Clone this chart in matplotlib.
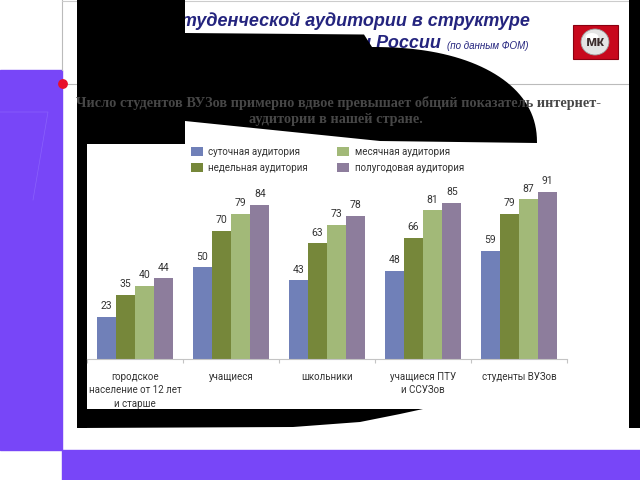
import numpy as np
import matplotlib
matplotlib.use("Agg")
import matplotlib.pyplot as plt
from matplotlib.patches import Rectangle, Polygon, Ellipse, Circle

# chart data (percent of each group that uses the internet)
categories = ["городское\nнаселение от 12 лет\nи старше", "учащиеся", "школьники",
              "учащиеся ПТУ\nи ССУЗов", "студенты ВУЗов"]
series_names = ["суточная аудитория", "недельная аудитория",
                "месячная аудитория", "полугодовая аудитория"]
daily = [23, 50, 43, 48, 59]
weekly = [35, 70, 63, 66, 79]
monthly = [40, 79, 73, 81, 87]
halfyear = [44, 84, 78, 85, 91]

colors = ["#7080b8", "#76873a", "#a2b978", "#8d7d9c"]
PURPLE = "#7846f8"
NAVY = "#24247e"

fig = plt.figure(figsize=(6.4, 4.8), dpi=100)
fig.patch.set_facecolor("white")

# ---- slide decoration, drawn in pixel coordinates ----
bg = fig.add_axes([0, 0, 1, 1])
bg.set_xlim(0, 640); bg.set_ylim(480, 0); bg.axis("off")

bg.add_patch(Rectangle((0, 70), 62, 380, color=PURPLE, zorder=1))
bg.add_patch(Rectangle((62, 450), 578, 30, color=PURPLE, zorder=1))
bg.plot([0, 48, 33], [112, 112, 200], color="#8a62fc", lw=0.5, zorder=1.5)
bg.plot([62, 62], [0, 70], color="#bbbbbb", lw=0.8, zorder=1)
bg.plot([62, 640], [0.5, 0.5], color="#cccccc", lw=0.8, zorder=1)
bg.plot([62, 629], [84, 84], color="#bbbbbb", lw=0.8, zorder=1)

# title (partly hidden by the black shape, as in the slide)
tkw = dict(family=["Liberation Sans", "DejaVu Sans"], style="italic",
           weight="bold", color=NAVY, zorder=2)
bg.text(530, 21, "Доля студенческой аудитории в структуре", ha="right",
        va="center", fontsize=13, **tkw)
bg.text(441, 43, "интернет-аудитории России", ha="right", va="center",
        fontsize=13, **tkw)
bg.text(447, 46, "(по данным ФОМ)", ha="left", va="center", fontsize=7,
        family=["Liberation Sans", "DejaVu Sans"], style="italic",
        color=NAVY, zorder=2)

# logo
bg.add_patch(Rectangle((573, 25), 45, 34, facecolor="#c8081c",
                       edgecolor="#8a0010", lw=0.8, zorder=2))
bg.add_patch(Ellipse((595, 42), 28, 26, facecolor="#e4e4e4",
                     edgecolor="#9a9a9a", lw=0.6, zorder=2.1))
bg.add_patch(Ellipse((592, 37), 13, 8, facecolor="white", edgecolor="none",
                     zorder=2.15))
bg.text(595, 42.5, "мк", ha="center", va="center", fontsize=11, weight="bold",
        color="#3a2a2a", family=["Liberation Sans", "DejaVu Sans"], zorder=2.2)

# black overlay shape
blk = dict(facecolor="black", edgecolor="none", zorder=3)
bg.add_patch(Rectangle((77, 0), 108, 144, **blk))
bg.add_patch(Rectangle((77, 144), 10, 284, **blk))
bg.add_patch(Rectangle((629, 0), 11, 428, **blk))
t = np.linspace(np.pi / 2, 0, 40)
arc_x = 372 + 165 * np.cos(t) ** 0.9
arc_y = 143 - 96 * np.sin(t) ** 0.9
top = [(185, 33), (364, 34.5)] + list(zip(arc_x, arc_y)) + [(380, 141), (185, 121)]
bg.add_patch(Polygon(top, closed=True, **blk))
bottom = [(77, 409), (423, 409), (400, 414), (360, 422), (293, 427), (77, 428)]
bg.add_patch(Polygon(bottom, closed=True, **blk))

# white panel of the chart
bg.add_patch(Rectangle((87, 144), 533, 265, facecolor="white",
                       edgecolor="none", zorder=4))

# red dot on the slide border
bg.add_patch(Circle((63, 84), 4.2, color="#e8102c", zorder=5))

# subtitle
skw = dict(family=["Liberation Serif", "DejaVu Serif"], weight="bold",
           color="#474747", ha="center", va="center", fontsize=10.3, zorder=6)
bg.text(339, 103, "Число студентов ВУЗов примерно вдвое превышает общий "
        "показатель интернет-", **skw)
bg.text(336, 120, "аудитории в нашей стране.", **skw)

# ---- bar chart ----
plt.rcParams["font.family"] = ["Roboto", "DejaVu Sans"]
ax = fig.add_axes([87 / 640, (480 - 359) / 480, 480 / 640, 183.5 / 480])
ax.set_facecolor("none")
ax.set_xlim(-0.5, len(categories) - 0.5)
ax.set_ylim(0, 100)

x = np.arange(len(categories))
w = 0.2
handles = []
for k, (vals, c, name) in enumerate(zip([daily, weekly, monthly, halfyear],
                                        colors, series_names)):
    pos = x + (k - 1.5) * w
    b = ax.bar(pos, vals, width=w, color=c, label=name, zorder=2)
    handles.append(b)
    for p, v in zip(pos, vals):
        ax.annotate(str(v), (p, v), xytext=(0, 4), textcoords="offset points",
                    ha="center", va="bottom", fontsize=7.5, color="#333333")

for s in ["top", "right", "left"]:
    ax.spines[s].set_visible(False)
ax.spines["bottom"].set_color("#c4c4c4")
ax.spines["bottom"].set_linewidth(0.8)
ax.set_yticks([])
ax.set_xticks(x)
ax.set_xticklabels(categories, fontsize=7, color="#333333", linespacing=1.45)
ax.tick_params(axis="x", which="major", length=0, pad=9)
ax.set_xticks(np.arange(len(categories) + 1) - 0.5, minor=True)
ax.tick_params(axis="x", which="minor", length=3, color="#c4c4c4", width=0.8)

fig.legend(handles=handles, labels=series_names, ncol=2, frameon=False,
           loc="upper left", bbox_to_anchor=(191 / 640, 1 - 147 / 480),
           fontsize=7, borderpad=0, borderaxespad=0, handlelength=1.2,
           handleheight=1.1, handletextpad=0.6, columnspacing=3.0,
           labelspacing=0.6, labelcolor="#333333")

fig.savefig("out.png", dpi=100, facecolor="white")
